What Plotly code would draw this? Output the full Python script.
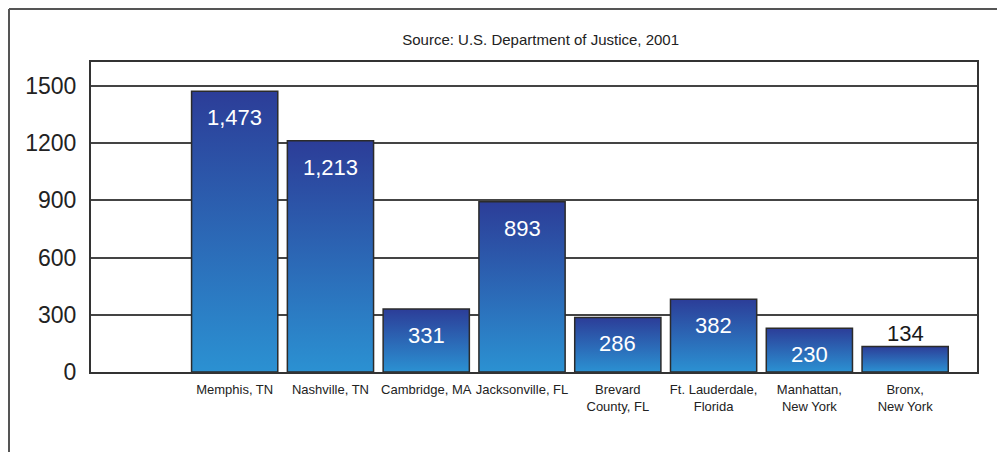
import plotly.graph_objects as go

categories = ["Memphis, TN", "Nashville, TN", "Cambridge, MA", "Jacksonville, FL",
              "Brevard<br>County, FL", "Ft. Lauderdale,<br>Florida",
              "Manhattan,<br>New York", "Bronx,<br>New York"]
values = [1473, 1213, 331, 893, 286, 382, 230, 134]
value_labels = ["1,473", "1,213", "331", "893", "286", "382", "230", "134"]
y_ticks = [0, 300, 600, 900, 1200, 1500]

FONT = "Liberation Sans, Arial, sans-serif"
TOP_COLOR = "#2c3d98"
BOTTOM_COLOR = "#2b91d2"
HALF_W = 0.45

# page body has an 8px margin; compensate so the plot lands where the reference has it
L, T, PW, PH = 83, 54, 886, 310
W, H = 1005, 452

fig = go.Figure()
positions = list(range(1, len(values) + 1))
for pos, v in zip(positions, values):
    fig.add_trace(go.Scatter(
        x=[pos - HALF_W, pos - HALF_W, pos + HALF_W, pos + HALF_W, pos - HALF_W],
        y=[0, v, v, 0, 0],
        mode="lines", fill="toself",
        line=dict(color="#2b2b2b", width=1.5),
        fillgradient=dict(type="vertical",
                          colorscale=[[0, BOTTOM_COLOR], [1, TOP_COLOR]]),
        hoverinfo="skip", showlegend=False,
    ))

# value labels
for pos, v, lab in zip(positions, values, value_labels):
    inside = v > 200
    fig.add_annotation(
        x=pos, y=v, text=lab, showarrow=False,
        yanchor="top" if inside else "bottom",
        yshift=-12 if inside else -2,
        font=dict(family=FONT, size=22, color="white" if inside else "#1a1a1a"),
    )

x0_paper = (1 - L) / PW
y_top_paper = 1 + (T - 1) / PH
fig.add_shape(type="line", xref="paper", yref="paper",
              x0=x0_paper, x1=x0_paper, y0=-0.4, y1=y_top_paper,
              line=dict(color="#555555", width=2))
fig.add_shape(type="line", xref="paper", yref="paper",
              x0=x0_paper, x1=1.1, y0=y_top_paper, y1=y_top_paper,
              line=dict(color="#555555", width=2))

fig.update_layout(
    width=W, height=H,
    margin=dict(l=L, r=W - L - PW, t=T, b=H - T - PH, autoexpand=False),
    paper_bgcolor="white", plot_bgcolor="white",
    title=dict(text="Source: U.S. Department of Justice, 2001",
               x=0.5075, xref="paper", y=1 - 32 / H, yanchor="middle",
               font=dict(family=FONT, size=15, color="#222222")),
    font=dict(family=FONT, color="#222222"),
)
fig.update_xaxes(
    range=[-0.5, 8.75], tickmode="array", tickvals=positions, ticktext=categories,
    tickangle=0, automargin=False,
    showgrid=False, zeroline=False, showline=True, linecolor="#333333", linewidth=2,
    mirror=True, ticks="", ticklabelstandoff=4,
    tickfont=dict(family=FONT, size=13, color="#222222"),
)
fig.update_yaxes(
    range=[0, 1626], tickmode="array", tickvals=y_ticks, automargin=False,
    showgrid=True, gridcolor="#444444", gridwidth=1.5, zeroline=False,
    showline=True, linecolor="#333333", linewidth=2, mirror=True, ticks="",
    ticklabelstandoff=8, tickfont=dict(family=FONT, size=23, color="#222222"),
)

fig.write_html("out.html")
